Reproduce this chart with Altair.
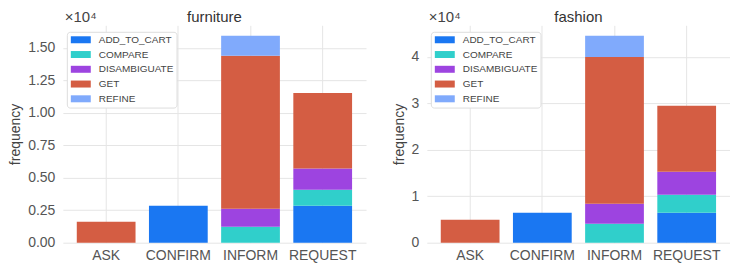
import altair as alt
import pandas as pd

acts = ["ASK", "CONFIRM", "INFORM", "REQUEST"]
labels = ["ADD_TO_CART", "COMPARE", "DISAMBIGUATE", "GET", "REFINE"]
colors = ["#1a77f2", "#30cfcb", "#9d44e0", "#d45d43", "#80aafc"]

# values per act (ASK, CONFIRM, INFORM, REQUEST)
furniture_add_to_cart = [0, 2850, 0, 2850]
furniture_compare = [0, 0, 1230, 1230]
furniture_disambiguate = [0, 0, 1390, 1640]
furniture_get = [1620, 0, 11790, 5810]
furniture_refine = [0, 0, 1540, 0]

fashion_add_to_cart = [0, 6470, 0, 6470]
fashion_compare = [0, 0, 4100, 3870]
fashion_disambiguate = [0, 0, 4300, 4960]
fashion_get = [4960, 0, 31600, 14200]
fashion_refine = [0, 0, 4600, 0]

furniture_ticks = [0, 2500, 5000, 7500, 10000, 12500, 15000]
fashion_ticks = [0, 10000, 20000, 30000, 40000]

FONT = "Liberation Sans"
W, H = 304, 218


def panel(name, series, ticks, fmt):
    rows = []
    for li, lab in enumerate(labels):
        for ai, act in enumerate(acts):
            v = series[li][ai]
            if v > 0:
                rows.append({"act": act, "label": lab, "freq": v, "ord": li})
    df = pd.DataFrame(rows)
    top = df.groupby("act")["freq"].sum().max() * 1.05
    bars = alt.Chart(df).mark_bar().encode(
        x=alt.X("act:N", sort=acts, title=None,
                scale=alt.Scale(domain=acts, paddingInner=0.186, paddingOuter=0.193),
                axis=alt.Axis(labelAngle=0, grid=True, bandPosition=0.5, labelPadding=6)),
        y=alt.Y("freq:Q", stack="zero",
                scale=alt.Scale(domain=[0, top], nice=False, zero=True),
                axis=alt.Axis(values=ticks, labelExpr=f"format(datum.value/10000, '{fmt}')",
                              title="frequency", labelPadding=8, titlePadding=5)),
        color=alt.Color("label:N", scale=alt.Scale(domain=labels, range=colors),
                        legend=alt.Legend(title=None, orient="none", legendX=4, legendY=6.5,
                                          padding=3, symbolType="M-2,-0.7L2,-0.7L2,0.7L-2,0.7Z",
                                          symbolSize=100, symbolStrokeWidth=0, symbolOffset=6,
                                          symbolOpacity=1,
                                          labelFontSize=10, labelColor="#444", labelFont=FONT,
                                          rowPadding=4.8, labelOffset=13,
                                          strokeColor="#dddddd", fillColor="white",
                                          cornerRadius=3)),
        order=alt.Order("ord:Q", sort="ascending"),
    )
    title = alt.Chart(pd.DataFrame({"t": [name]})).mark_text(
        align="center", baseline="alphabetic", fontSize=15, font=FONT, color="#333"
    ).encode(x=alt.value(W / 2), y=alt.value(-3), text="t:N")
    mult = alt.Chart(pd.DataFrame({"t": ["×10⁴"]})).mark_text(
        align="left", baseline="alphabetic", fontSize=15, font=FONT, color="#444"
    ).encode(x=alt.value(2), y=alt.value(-3), text="t:N")
    return alt.layer(bars, title, mult).properties(width=W, height=H)


left = panel("furniture", [furniture_add_to_cart, furniture_compare, furniture_disambiguate,
                           furniture_get, furniture_refine], furniture_ticks, ".2f")
right = panel("fashion", [fashion_add_to_cart, fashion_compare, fashion_disambiguate,
                          fashion_get, fashion_refine], fashion_ticks, "d")

chart = alt.hconcat(left, right, spacing=26,
                    padding={"top": 2, "left": 0, "right": 0, "bottom": 0}).resolve_scale(
    x="independent", y="independent", color="independent"
).resolve_legend(color="independent").configure(background="white").configure_view(
    stroke=None
).configure_axis(
    domain=False, ticks=False, gridColor="#e5e5e5", gridWidth=1,
    labelFont=FONT, labelFontSize=14, labelColor="#555",
    titleFont=FONT, titleFontSize=14, titleColor="#444", titleFontWeight="normal",
)

chart.save("out.html", embed_options={"renderer": "svg", "actions": False})
